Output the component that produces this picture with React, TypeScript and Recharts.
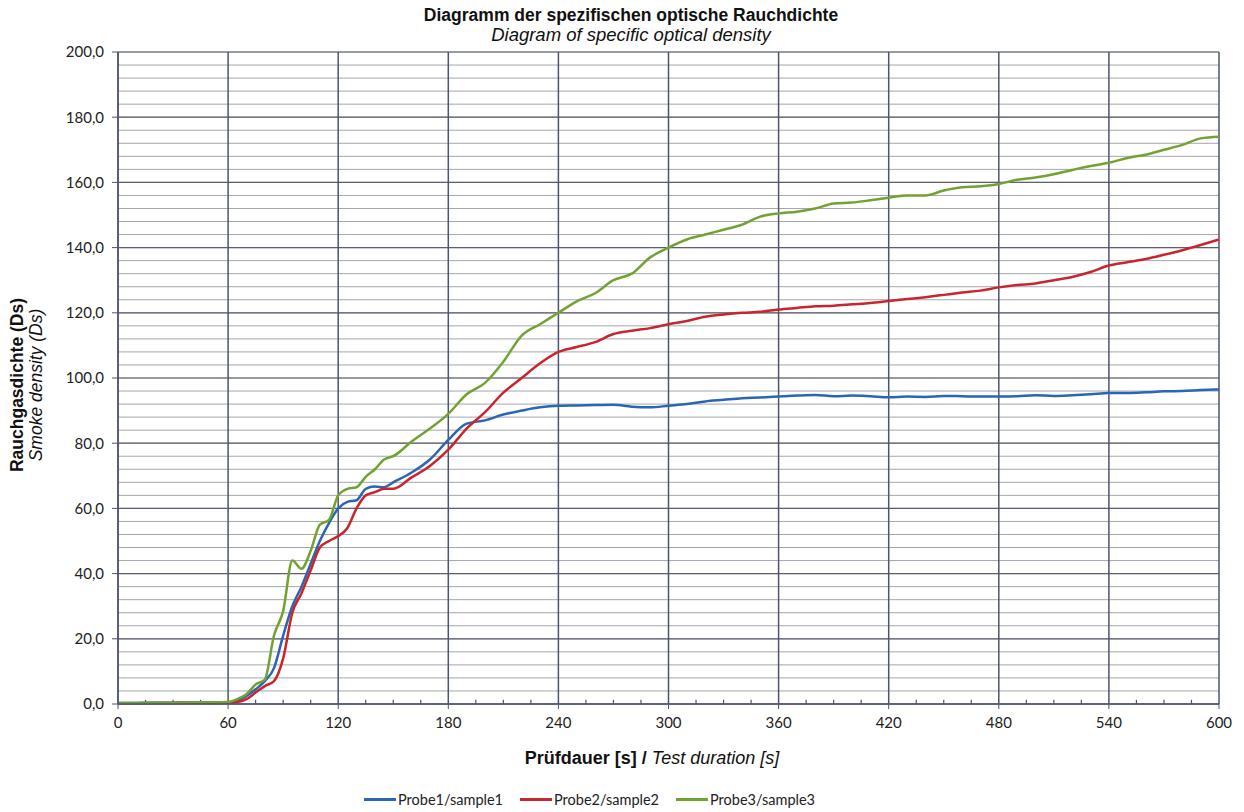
import React from "react";
import { CartesianGrid, Line, LineChart, ReferenceLine, XAxis, YAxis } from "recharts";

// time in seconds
const TIME = [
  0, 10, 20, 30, 40, 50, 60, 65, 70, 75, 80, 85, 90, 95, 100, 105, 110, 115, 120, 125, 130, 135, 140, 145,
  150, 160, 170, 180, 190, 200, 210, 220, 230, 240, 250, 260, 270, 280, 290, 300, 310, 320, 330, 340, 350,
  360, 370, 380, 390, 400, 410, 420, 430, 440, 450, 460, 470, 480, 490, 500, 510, 520, 530, 540, 550, 560,
  570, 580, 590, 600,
];

const SAMPLE1 = [
  0.3, 0.3, 0.4, 0.4, 0.5, 0.5, 0.5, 1, 2.5, 4.5, 7, 11, 21, 30, 36, 43, 50, 55.5, 60, 62, 62.5, 66, 66.7, 66.5,
  68, 71, 75, 81, 86, 87, 88.8, 90, 91, 91.5, 91.6, 91.7, 91.8, 91.2, 91, 91.5, 92, 92.8, 93.3, 93.8, 94,
  94.3, 94.6, 94.8, 94.4, 94.6, 94.4, 94.1, 94.3, 94.2, 94.5, 94.4, 94.3, 94.3, 94.4, 94.7, 94.5, 94.7, 95, 95.4, 95.4, 95.6,
  95.9, 96, 96.3, 96.5,
];

const SAMPLE2 = [
  0.2, 0.2, 0.3, 0.3, 0.4, 0.4, 0.4, 0.6, 1.5, 3.5, 5.5, 7, 14, 28, 34, 41, 48, 50, 51.5, 54, 60, 64, 65, 66,
  66, 69.5, 73, 78, 84.5, 89.5, 95.5, 100, 104.5, 108, 109.5, 111, 113.5, 114.5, 115.3, 116.5, 117.5, 118.8, 119.5, 120, 120.3,
  121, 121.5, 122, 122.2, 122.6, 123, 123.6, 124.2, 124.8, 125.5, 126.2, 126.8, 127.8, 128.5, 129, 130, 131, 132.5, 134.5, 135.5, 136.5,
  137.8, 139.2, 140.8, 142.5,
];

const SAMPLE3 = [
  0.3, 0.3, 0.4, 0.4, 0.5, 0.5, 0.6, 1.5, 3, 6, 7.5, 21, 28.5, 44, 41.5, 47, 55, 56.5, 64, 66, 66.5, 69.7, 72, 75,
  76, 80.5, 84.5, 89, 95, 98.5, 105, 113, 116.5, 120, 123.5, 126, 130, 132, 137, 140, 142.5, 144, 145.5, 147, 149.5,
  150.5, 151, 152, 153.5, 153.8, 154.5, 155.3, 156, 156, 157.5, 158.5, 158.8, 159.5, 160.8, 161.5, 162.5, 163.8, 165, 166, 167.5, 168.5,
  170, 171.5, 173.5, 174,
];

const X_TICKS = [0, 60, 120, 180, 240, 300, 360, 420, 480, 540, 600];
const Y_TICKS = [0, 20, 40, 60, 80, 100, 120, 140, 160, 180, 200];

const SERIES = [
  { key: "s1", name: "Probe1/sample1", color: "#2a66b3" },
  { key: "s2", name: "Probe2/sample2", color: "#c8262c" },
  { key: "s3", name: "Probe3/sample3", color: "#72a232" },
];

const data = TIME.map((t, i) => ({
  t,
  s1: SAMPLE1[i],
  s2: SAMPLE2[i],
  s3: SAMPLE3[i],
}));

const minorY: number[] = [];
for (let v = 0; v <= 200; v += 4) minorY.push(v);
const minorX: number[] = [];
for (let v = 15; v < 600; v += 15) if (v % 60 !== 0) minorX.push(v);

const fmt = (v: number) => v.toFixed(1).replace(".", ",");

const tickFont = { fontFamily: "Lato, 'Open Sans', sans-serif", fontSize: 15, fill: "#222" };
const gridDark = "#4d5470";
const arial = "'Liberation Sans', Arial, sans-serif";

export default function App() {
  return (
    <div style={{ position: "absolute", left: 0, top: 0, width: 1244, height: 812, background: "#fff" }}>
      <div
        style={{
          position: "absolute",
          left: 331,
          width: 600,
          top: 5,
          textAlign: "center",
          fontFamily: arial,
          fontSize: 17.5,
          lineHeight: "20px",
          color: "#111",
        }}
      >
        <div style={{ fontWeight: "bold" }}>Diagramm der spezifischen optische Rauchdichte</div>
        <div style={{ fontStyle: "italic", fontSize: 18.5 }}>Diagram of specific optical density</div>
      </div>
      <div
        style={{
          position: "absolute",
          left: 352,
          width: 600,
          top: 748,
          textAlign: "center",
          fontFamily: arial,
          fontSize: 18,
          color: "#111",
        }}
      >
        <span style={{ fontWeight: "bold" }}>Prüfdauer [s] / </span>
        <span style={{ fontStyle: "italic" }}>Test duration [s]</span>
      </div>
      <div
        style={{
          position: "absolute",
          left: 27,
          top: 385,
          transform: "translate(-50%, -50%) rotate(-90deg)",
          textAlign: "center",
          whiteSpace: "nowrap",
          fontFamily: arial,
          fontSize: 17.5,
          lineHeight: "19px",
          color: "#111",
        }}
      >
        <div style={{ fontWeight: "bold" }}>Rauchgasdichte (Ds)</div>
        <div style={{ fontStyle: "italic" }}>Smoke density (Ds)</div>
      </div>
      <div
        style={{
          position: "absolute",
          left: 364,
          top: 791,
          display: "flex",
          fontFamily: "Lato, sans-serif",
          fontSize: 14.5,
          color: "#222",
        }}
      >
        {SERIES.map((s) => (
          <div key={s.key} style={{ display: "flex", alignItems: "center", width: 156 }}>
            <span style={{ display: "inline-block", width: 32, height: 3, background: s.color, marginRight: 2 }} />
            {s.name}
          </div>
        ))}
      </div>
      <LineChart width={1244} height={812} data={data} margin={{ top: 52, right: 25, bottom: 78, left: 48 }}>
        <CartesianGrid stroke="#a4a6ae" strokeWidth={1} horizontalValues={minorY} vertical={false} />
        {Y_TICKS.map((v) => (
          <ReferenceLine key={"y" + v} y={v} stroke="#5c6070" strokeWidth={1.2} />
        ))}
        {X_TICKS.map((v) => (
          <ReferenceLine key={"x" + v} x={v} stroke={gridDark} strokeWidth={1.5} />
        ))}
        {minorX.map((v) => (
          <ReferenceLine
            key={"mx" + v}
            segment={[
              { x: v, y: 0 },
              { x: v, y: 1.3 },
            ]}
            stroke={gridDark}
            strokeWidth={1.2}
          />
        ))}
        <XAxis
          dataKey="t"
          type="number"
          domain={[0, 600]}
          ticks={X_TICKS}
          height={30}
          tick={tickFont}
          tickLine={{ stroke: gridDark }}
          tickSize={5}
          tickMargin={8}
          axisLine={{ stroke: gridDark, strokeWidth: 1.5 }}
          interval={0}
        />
        <YAxis
          type="number"
          domain={[0, 200]}
          ticks={Y_TICKS}
          width={70}
          tick={tickFont}
          tickFormatter={fmt}
          tickLine={{ stroke: gridDark }}
          tickSize={6}
          tickMargin={8}
          axisLine={{ stroke: gridDark, strokeWidth: 1.5 }}
          interval={0}
        />
        {SERIES.map((s) => (
          <Line
            key={s.key}
            dataKey={s.key}
            name={s.name}
            type="monotone"
            stroke={s.color}
            strokeWidth={2.5}
            dot={false}
            isAnimationActive={false}
          />
        ))}
      </LineChart>
    </div>
  );
}
